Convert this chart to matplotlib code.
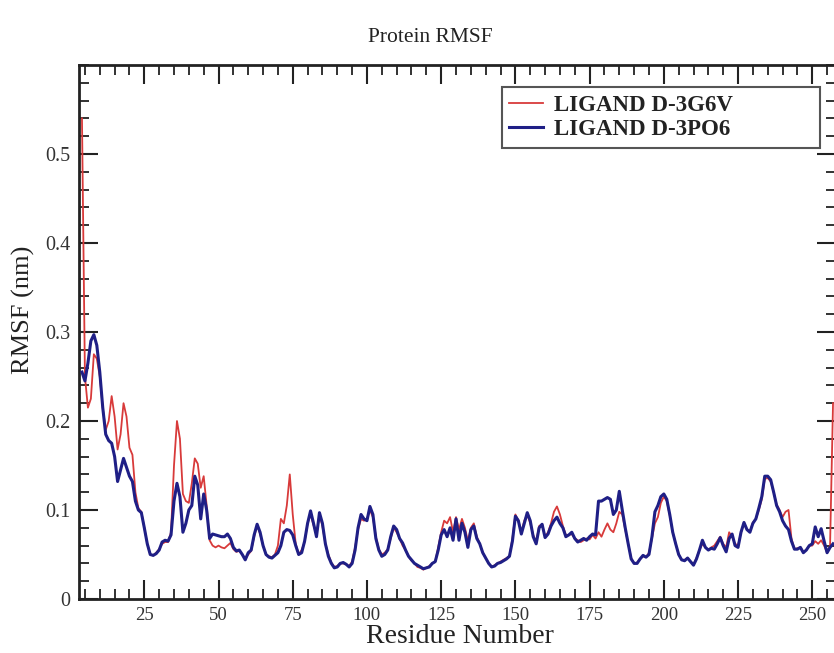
import matplotlib
matplotlib.use("Agg")
import matplotlib.pyplot as plt
from matplotlib.ticker import MultipleLocator
from matplotlib.patches import Rectangle

plt.rcParams['font.family'] = ['Liberation Serif', 'DejaVu Serif']

residues = list(range(4, 258))

rmsf_3g6v = [
    0.540, 0.250, 0.215, 0.225, 0.275, 0.270, 0.250, 0.215, 0.190, 0.200,  # 4-13
    0.228, 0.205, 0.168, 0.185, 0.220, 0.205, 0.170, 0.162, 0.120, 0.102,  # 14-23
    0.098, 0.080, 0.062, 0.050, 0.049, 0.052, 0.056, 0.062, 0.064, 0.064,  # 24-33
    0.075, 0.150, 0.200, 0.180, 0.118, 0.110, 0.108, 0.130, 0.158, 0.152,  # 34-43
    0.125, 0.138, 0.105, 0.066, 0.060, 0.058, 0.060, 0.058, 0.057, 0.060,  # 44-53
    0.063, 0.056, 0.053, 0.054, 0.050, 0.045, 0.050, 0.054, 0.070, 0.083,  # 54-63
    0.073, 0.060, 0.050, 0.048, 0.047, 0.050, 0.060, 0.090, 0.085, 0.105,  # 64-73
    0.140, 0.095, 0.062, 0.050, 0.055, 0.064, 0.085, 0.095, 0.083, 0.072,  # 74-83
    0.095, 0.082, 0.062, 0.050, 0.041, 0.036, 0.037, 0.040, 0.040, 0.039,  # 84-93
    0.037, 0.042, 0.058, 0.078, 0.090, 0.088, 0.090, 0.100, 0.092, 0.070,  # 94-103
    0.056, 0.050, 0.052, 0.056, 0.068, 0.080, 0.075, 0.068, 0.060, 0.055,  # 104-113
    0.048, 0.043, 0.040, 0.036, 0.035, 0.033, 0.035, 0.037, 0.040, 0.042,  # 114-123
    0.058, 0.075, 0.088, 0.085, 0.092, 0.075, 0.092, 0.078, 0.090, 0.080,  # 124-133
    0.065, 0.080, 0.085, 0.070, 0.062, 0.052, 0.046, 0.040, 0.036, 0.038,  # 134-143
    0.040, 0.042, 0.044, 0.046, 0.048, 0.068, 0.095, 0.088, 0.075, 0.088,  # 144-153
    0.095, 0.085, 0.072, 0.064, 0.082, 0.084, 0.070, 0.075, 0.085, 0.098,  # 154-163
    0.104, 0.095, 0.082, 0.072, 0.072, 0.073, 0.068, 0.066, 0.064, 0.066,  # 164-173
    0.068, 0.067, 0.072, 0.068, 0.075, 0.070, 0.078, 0.085, 0.078, 0.075,  # 174-183
    0.085, 0.098, 0.095, 0.078, 0.062, 0.046, 0.040, 0.041, 0.045, 0.048,  # 184-193
    0.047, 0.052, 0.068, 0.085, 0.092, 0.108, 0.115, 0.110, 0.094, 0.075,  # 194-203
    0.062, 0.050, 0.044, 0.044, 0.046, 0.042, 0.039, 0.046, 0.055, 0.062,  # 204-213
    0.058, 0.055, 0.058, 0.060, 0.065, 0.070, 0.062, 0.058, 0.075, 0.070,  # 214-223
    0.062, 0.060, 0.075, 0.085, 0.078, 0.076, 0.086, 0.090, 0.100, 0.112,  # 224-233
    0.135, 0.136, 0.132, 0.120, 0.106, 0.100, 0.092, 0.098, 0.100, 0.068,  # 234-243
    0.056, 0.057, 0.058, 0.053, 0.055, 0.060, 0.060, 0.065, 0.062, 0.066,  # 244-253
    0.060, 0.052, 0.060, 0.220,                                            # 254-257
]

rmsf_3po6 = [
    0.255, 0.245, 0.265, 0.290, 0.297, 0.285, 0.255, 0.215, 0.185, 0.178,  # 4-13
    0.175, 0.160, 0.132, 0.145, 0.158, 0.148, 0.138, 0.132, 0.110, 0.100,  # 14-23
    0.097, 0.080, 0.062, 0.050, 0.049, 0.051, 0.055, 0.064, 0.066, 0.065,  # 24-33
    0.072, 0.110, 0.130, 0.115, 0.075, 0.085, 0.100, 0.105, 0.138, 0.128,  # 34-43
    0.090, 0.118, 0.100, 0.068, 0.073, 0.072, 0.071, 0.070, 0.070, 0.073,  # 44-53
    0.068, 0.058, 0.054, 0.055, 0.050, 0.044, 0.052, 0.055, 0.072, 0.084,  # 54-63
    0.075, 0.060, 0.050, 0.047, 0.046, 0.049, 0.052, 0.060, 0.075, 0.078,  # 64-73
    0.077, 0.072, 0.060, 0.050, 0.052, 0.065, 0.085, 0.099, 0.085, 0.070,  # 74-83
    0.097, 0.085, 0.062, 0.048, 0.040, 0.035, 0.036, 0.040, 0.041, 0.039,  # 84-93
    0.036, 0.040, 0.055, 0.080, 0.095, 0.090, 0.088, 0.104, 0.095, 0.068,  # 94-103
    0.055, 0.048, 0.050, 0.055, 0.070, 0.082, 0.078, 0.068, 0.063, 0.055,  # 104-113
    0.048, 0.044, 0.040, 0.038, 0.036, 0.034, 0.035, 0.036, 0.040, 0.042,  # 114-123
    0.055, 0.072, 0.078, 0.070, 0.080, 0.066, 0.090, 0.066, 0.085, 0.075,  # 124-133
    0.058, 0.078, 0.082, 0.068, 0.062, 0.052, 0.046, 0.040, 0.036, 0.037,  # 134-143
    0.040, 0.041, 0.043, 0.045, 0.048, 0.065, 0.093, 0.088, 0.073, 0.085,  # 144-153
    0.097, 0.088, 0.070, 0.062, 0.080, 0.084, 0.069, 0.073, 0.082, 0.088,  # 154-163
    0.092, 0.085, 0.080, 0.070, 0.072, 0.075, 0.068, 0.064, 0.066, 0.068,  # 164-173
    0.066, 0.070, 0.073, 0.072, 0.110, 0.110, 0.112, 0.114, 0.112, 0.095,  # 174-183
    0.100, 0.121, 0.100, 0.080, 0.062, 0.045, 0.040, 0.040, 0.045, 0.049,  # 184-193
    0.047, 0.050, 0.070, 0.098, 0.105, 0.115, 0.118, 0.112, 0.095, 0.075,  # 194-203
    0.062, 0.050, 0.044, 0.043, 0.046, 0.042, 0.038, 0.045, 0.055, 0.066,  # 204-213
    0.058, 0.055, 0.057, 0.056, 0.062, 0.069, 0.060, 0.053, 0.068, 0.073,  # 214-223
    0.060, 0.058, 0.075, 0.086, 0.078, 0.075, 0.085, 0.090, 0.102, 0.115,  # 224-233
    0.138, 0.138, 0.134, 0.120, 0.105, 0.098, 0.088, 0.082, 0.078, 0.065,  # 234-243
    0.056, 0.056, 0.058, 0.052, 0.055, 0.060, 0.062, 0.081, 0.070, 0.079,  # 244-253
    0.065, 0.052, 0.058, 0.062,                                            # 254-257
]

series_labels = ["LIGAND D-3G6V", "LIGAND D-3PO6"]
x_ticks = [25, 50, 75, 100, 125, 150, 175, 200, 225, 250]
y_ticks = [0, 0.1, 0.2, 0.3, 0.4, 0.5]
y_tick_labels = ["0", "0.1", "0.2", "0.3", "0.4", "0.5"]

W, H = 834, 653
fig = plt.figure(figsize=(W / 100, H / 100), dpi=100)
left_px, right_px, top_px, bottom_px = 79, 836, 65, 599
ax = fig.add_axes([left_px / W, 1 - bottom_px / H,
                   (right_px - left_px) / W, (bottom_px - top_px) / H])

ax.plot(residues, rmsf_3g6v, color='#d83a3a', lw=1.3, label=series_labels[0], zorder=2)
ax.plot(residues, rmsf_3po6, color='#1f1f86', lw=2.2, label=series_labels[1], zorder=3)

ax.set_xlim(3, 258)
ax.set_ylim(0, 0.6)
ax.set_xticks(x_ticks)
ax.xaxis.set_minor_locator(MultipleLocator(5))
ax.set_yticks(y_ticks)
ax.set_yticklabels(y_tick_labels)
ax.yaxis.set_minor_locator(MultipleLocator(0.02))

ax.tick_params(axis='both', which='major', direction='in', length=14, width=1.5,
               top=True, right=True, colors='#222222', pad=6)
ax.tick_params(axis='x', which='major', labelsize=13.5)
ax.tick_params(axis='y', which='major', labelsize=14.5)
ax.tick_params(axis='both', which='minor', direction='in', length=7, width=1.3,
               top=True, right=True, colors='#222222')
for lab in ax.get_xticklabels() + ax.get_yticklabels():
    lab.set_color('#333333')
for sp in ax.spines.values():
    sp.set_linewidth(2.0)
    sp.set_color('#222222')

ax.set_xlabel("Residue Number", fontsize=20, color='#222222')
ax.xaxis.set_label_coords((460 - left_px) / (right_px - left_px),
                          (bottom_px - 624) / (bottom_px - top_px))
ax.set_ylabel("RMSF (nm)", fontsize=19, color='#222222')
ax.yaxis.set_label_coords(-0.058, (bottom_px - 310) / (bottom_px - top_px))

fig.text(430 / W, 1 - 38 / H, "Protein RMSF", fontsize=15.5, color='#222222',
         ha='center', va='center')

# legend box (wider than its contents, as in the reference)
box_l, box_r, box_t, box_b = 502, 820, 87, 148
ax.add_patch(Rectangle((box_l / W, 1 - box_b / H), (box_r - box_l) / W,
                       (box_b - box_t) / H, transform=fig.transFigure, clip_on=False,
                       facecolor='white', edgecolor='#555555', lw=1.5, zorder=4))
leg = ax.legend(loc='upper left', bbox_to_anchor=(504 / W, 1 - 90 / H),
                bbox_transform=fig.transFigure, borderaxespad=0,
                frameon=False, handlelength=1.5, handletextpad=0.5,
                labelspacing=0.15, borderpad=0.2,
                prop={'family': ['Liberation Serif'], 'weight': 'bold', 'size': 16.5})
leg.set_zorder(5)
for t in leg.get_texts():
    t.set_color('#222222')

fig.savefig("out.png", dpi=100)
